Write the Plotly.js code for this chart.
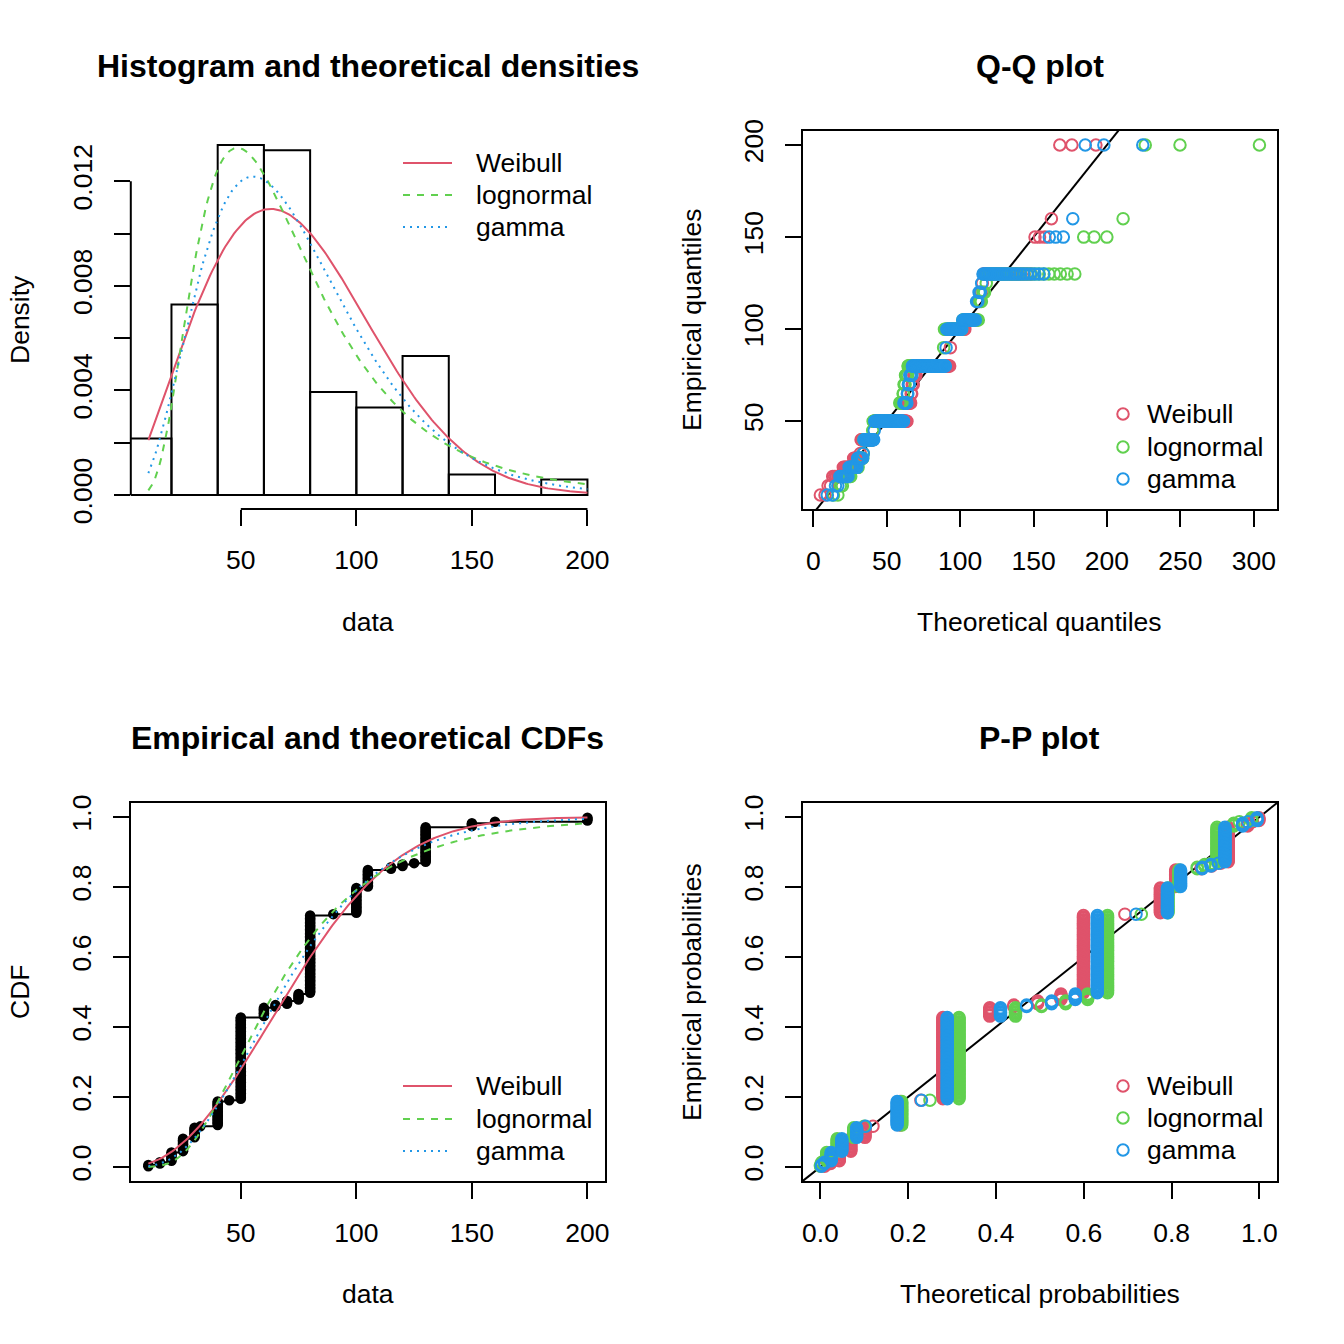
<!DOCTYPE html>
<html><head><meta charset="utf-8">
<script src="https://cdn.plot.ly/plotly-3.0.1.min.js"></script>
<style>html,body{margin:0;padding:0;background:#fff}#chart{width:1344px;height:1344px}</style>
</head><body><div id="chart"></div>
<script>
// ---------------- data (serving sizes) ----------------
const servingValues = [10, 15, 20, 25, 30, 32.5, 40, 45, 50, 60, 65, 70, 75, 80, 90, 100, 105, 115, 120, 125, 130, 150, 160, 200];
const servingCounts = [2, 2, 7, 10, 8, 1, 18, 1, 60, 7, 2, 3, 5, 57, 1, 19, 13, 2, 2, 1, 26, 3, 1, 3];
const histBreaks = [0, 20, 40, 60, 80, 100, 120, 140, 160, 180, 200];

// fitted parameters of the three distributions
const weibullShape = 2.185885, weibullScale = 83.347679;
const lnormMeanlog = 4.169370, lnormSdlog = 0.536609;
const gammaShape = 4.00825, gammaRate = 0.05442;

const distNames = ["Weibull", "lognormal", "gamma"];
const distColors = ["#DF536B", "#61D04F", "#2297E6"];
const distDash = ["solid", "7px,7px", "2px,5px"];

const panelTitles = ["Histogram and theoretical densities", "Q-Q plot", "Empirical and theoretical CDFs", "P-P plot"];
const histXTicks = [50, 100, 150, 200];
const histYTicks = [0, 0.002, 0.004, 0.006, 0.008, 0.010, 0.012];
const histYLabels = ["0.000", "", "0.004", "", "0.008", "", "0.012"];
const qqXTicks = [0, 50, 100, 150, 200, 250, 300];
const qqYTicks = [50, 100, 150, 200];
const probTicks = [0, 0.2, 0.4, 0.6, 0.8, 1.0];
const probLabels = ["0.0", "0.2", "0.4", "0.6", "0.8", "1.0"];

// ---------------- distribution functions ----------------
function lgamma(z) {
  const c = [0.99999999999980993, 676.5203681218851, -1259.1392167224028, 771.32342877765313,
    -176.61502916214059, 12.507343278686905, -0.13857109526572012, 9.9843695780195716e-6, 1.5056327351493116e-7];
  if (z < 0.5) return Math.log(Math.PI / Math.sin(Math.PI * z)) - lgamma(1 - z);
  z -= 1; let x = c[0];
  for (let i = 1; i < 9; i++) x += c[i] / (z + i);
  const t = z + 7.5;
  return 0.5 * Math.log(2 * Math.PI) + (z + 0.5) * Math.log(t) - t + Math.log(x);
}
function gammaP(a, x) {
  if (x <= 0) return 0;
  const lpre = -x + a * Math.log(x) - lgamma(a);
  if (x < a + 1) {
    let ap = a, sum = 1 / a, del = sum;
    for (let n = 0; n < 1000; n++) { ap += 1; del *= x / ap; sum += del; if (Math.abs(del) < Math.abs(sum) * 1e-15) break; }
    return sum * Math.exp(lpre);
  }
  let b = x + 1 - a, c = 1e300, d = 1 / b, h = d;
  for (let i = 1; i < 1000; i++) {
    const an = -i * (i - a); b += 2;
    d = an * d + b; if (Math.abs(d) < 1e-300) d = 1e-300;
    c = b + an / c; if (Math.abs(c) < 1e-300) c = 1e-300;
    d = 1 / d; const del = d * c; h *= del;
    if (Math.abs(del - 1) < 1e-15) break;
  }
  return 1 - Math.exp(lpre) * h;
}
function erfc(x) {
  const z = Math.abs(x), t = 1 / (1 + 0.5 * z);
  const r = t * Math.exp(-z * z - 1.26551223 + t * (1.00002368 + t * (0.37409196 + t * (0.09678418 + t * (-0.18628806 +
    t * (0.27886807 + t * (-1.13520398 + t * (1.48851587 + t * (-0.82215223 + t * 0.17087277)))))))));
  return x >= 0 ? r : 2 - r;
}
function pnorm(z) { return 0.5 * erfc(-z / Math.SQRT2); }
function qnorm(p) {
  const a = [-3.969683028665376e+01, 2.209460984245205e+02, -2.759285104469687e+02, 1.383577518672690e+02, -3.066479806614716e+01, 2.506628277459239e+00];
  const b = [-5.447609879822406e+01, 1.615858368580409e+02, -1.556989798598866e+02, 6.680131188771972e+01, -1.328068155288572e+01];
  const c = [-7.784894002430293e-03, -3.223964580411365e-01, -2.400758277161838e+00, -2.549732539343734e+00, 4.374664141464968e+00, 2.938163982698783e+00];
  const d = [7.784695709041462e-03, 3.224671290700398e-01, 2.445134137142996e+00, 3.754408661907416e+00];
  const pl = 0.02425;
  let q, r;
  if (p < pl) { q = Math.sqrt(-2 * Math.log(p)); return (((((c[0]*q+c[1])*q+c[2])*q+c[3])*q+c[4])*q+c[5]) / ((((d[0]*q+d[1])*q+d[2])*q+d[3])*q+1); }
  if (p > 1 - pl) { q = Math.sqrt(-2 * Math.log(1 - p)); return -(((((c[0]*q+c[1])*q+c[2])*q+c[3])*q+c[4])*q+c[5]) / ((((d[0]*q+d[1])*q+d[2])*q+d[3])*q+1); }
  q = p - 0.5; r = q * q;
  return (((((a[0]*r+a[1])*r+a[2])*r+a[3])*r+a[4])*r+a[5]) * q / (((((b[0]*r+b[1])*r+b[2])*r+b[3])*r+b[4])*r+1);
}
const dists = [
  { // Weibull
    d: x => (weibullShape / weibullScale) * Math.pow(x / weibullScale, weibullShape - 1) * Math.exp(-Math.pow(x / weibullScale, weibullShape)),
    p: x => 1 - Math.exp(-Math.pow(x / weibullScale, weibullShape)),
    q: p => weibullScale * Math.pow(-Math.log(1 - p), 1 / weibullShape)
  },
  { // lognormal
    d: x => Math.exp(-Math.pow(Math.log(x) - lnormMeanlog, 2) / (2 * lnormSdlog * lnormSdlog)) / (x * lnormSdlog * Math.sqrt(2 * Math.PI)),
    p: x => pnorm((Math.log(x) - lnormMeanlog) / lnormSdlog),
    q: p => Math.exp(lnormMeanlog + lnormSdlog * qnorm(p))
  },
  { // gamma
    d: x => Math.exp(gammaShape * Math.log(gammaRate) + (gammaShape - 1) * Math.log(x) - gammaRate * x - lgamma(gammaShape)),
    p: x => gammaP(gammaShape, gammaRate * x),
    q: p => { let lo = 0, hi = 2000; for (let i = 0; i < 80; i++) { const m = (lo + hi) / 2; if (gammaP(gammaShape, gammaRate * m) < p) lo = m; else hi = m; } return (lo + hi) / 2; }
  }
];

// ---------------- derived quantities ----------------
const data = [];
servingValues.forEach((v, i) => { for (let k = 0; k < servingCounts[i]; k++) data.push(v); });
const n = data.length;
const s = data.slice().sort((a, b) => a - b);
const pp = s.map((_, i) => (i + 1 - 0.5) / n);          // ppoints(n)
const xmin = s[0], xmax = s[n - 1];
const ext = (lo, hi) => [lo - 0.04 * (hi - lo), hi + 0.04 * (hi - lo)];

// histogram (right-closed bins, density scale)
const binMid = [], binDens = [];
for (let b = 0; b < histBreaks.length - 1; b++) {
  const lo = histBreaks[b], hi = histBreaks[b + 1];
  const cnt = data.filter(v => (b === 0 ? v >= lo : v > lo) && v <= hi).length;
  binMid.push((lo + hi) / 2);
  binDens.push(cnt / (n * (hi - lo)));
}
const grid = [];
for (let i = 0; i <= 200; i++) grid.push(xmin + (xmax - xmin) * i / 200);
const dens = dists.map(D => grid.map(D.d));
const cdfs = dists.map(D => grid.map(D.p));
const ymaxHist = Math.max(...binDens, ...dens.map(a => Math.max(...a)));
const qq = dists.map(D => pp.map(D.q));
const qqAll = [].concat(...qq);
const qqXRange = ext(Math.min(...qqAll), Math.max(...qqAll));
const dataRange = ext(xmin, xmax);
const pRange = ext(0, 1);
const ppx = dists.map(D => s.map(D.p));

// ---------------- traces ----------------
const traces = [];
traces.push({ type: 'bar', x: binMid, y: binDens, width: 20, xaxis: 'x', yaxis: 'y',
  marker: { color: 'rgba(0,0,0,0)', line: { color: '#000', width: 2 } }, hoverinfo: 'skip' });
traces.push({ type: 'scatter', mode: 'lines', x: [histBreaks[0], histBreaks[histBreaks.length - 1]], y: [0, 0],
  xaxis: 'x', yaxis: 'y', line: { color: '#000', width: 2 }, hoverinfo: 'skip' });
dists.forEach((D, k) => traces.push({ type: 'scatter', mode: 'lines', x: grid, y: dens[k], xaxis: 'x', yaxis: 'y',
  line: { color: distColors[k], width: 2, dash: distDash[k] }, name: distNames[k] }));

// Q-Q
const diagLo = Math.min(qqXRange[0], dataRange[0]) - 50, diagHi = Math.max(qqXRange[1], dataRange[1]) + 50;
traces.push({ type: 'scatter', mode: 'lines', x: [diagLo, diagHi], y: [diagLo, diagHi], xaxis: 'x2', yaxis: 'y2',
  line: { color: '#000', width: 2 }, hoverinfo: 'skip' });
dists.forEach((D, k) => traces.push({ type: 'scatter', mode: 'markers', x: qq[k], y: s, xaxis: 'x2', yaxis: 'y2',
  marker: { symbol: 'circle-open', size: 11.5, color: distColors[k], line: { width: 2, color: distColors[k] } }, name: distNames[k] }));

// CDF
const stepX = [], stepY = [];
for (let i = 0; i < n - 1; i++) if (s[i + 1] > s[i]) { stepX.push(s[i], s[i + 1], null); stepY.push(pp[i], pp[i], null); }
traces.push({ type: 'scatter', mode: 'markers', x: s, y: pp, xaxis: 'x3', yaxis: 'y3',
  marker: { symbol: 'circle', size: 10.5, color: '#000' }, hoverinfo: 'skip' });
traces.push({ type: 'scatter', mode: 'lines', x: stepX, y: stepY, xaxis: 'x3', yaxis: 'y3',
  line: { color: '#000', width: 2 }, connectgaps: false, hoverinfo: 'skip' });
dists.forEach((D, k) => traces.push({ type: 'scatter', mode: 'lines', x: grid, y: cdfs[k], xaxis: 'x3', yaxis: 'y3',
  line: { color: distColors[k], width: 2, dash: distDash[k] }, name: distNames[k] }));

// P-P
traces.push({ type: 'scatter', mode: 'lines', x: [-1, 2], y: [-1, 2], xaxis: 'x4', yaxis: 'y4',
  line: { color: '#000', width: 2 }, hoverinfo: 'skip' });
dists.forEach((D, k) => traces.push({ type: 'scatter', mode: 'markers', x: ppx[k], y: pp, xaxis: 'x4', yaxis: 'y4',
  marker: { symbol: 'circle-open', size: 11.5, color: distColors[k], line: { width: 2, color: distColors[k] } }, name: distNames[k] }));

// ---------------- layout ----------------
const W = 1344, H = 1344;
const X = px => px / W, Y = py => 1 - py / H;
const FONT = '"Liberation Sans", Arial, Helvetica, sans-serif';
const BASE = 26.5, TITLE = 32;
const colL = [X(130.8), X(605)], colR = [X(802.8), X(1277)];
const rowT = [Y(509), Y(131)], rowB = [Y(1181), Y(803)];

function ax(extra) {
  return Object.assign({
    showgrid: false, zeroline: false, ticks: 'outside', ticklen: 16, tickwidth: 2, tickcolor: '#000',
    tickfont: { size: BASE, color: '#000', family: FONT }, showline: true, mirror: true, linecolor: '#000', linewidth: 2,
    fixedrange: true, ticklabelstandoff: 11, tickmode: 'array'
  }, extra);
}
const yExtra = { tickangle: -90 };

const layout = {
  width: W, height: H, margin: { l: 0, r: 0, t: 0, b: 0 }, showlegend: false,
  paper_bgcolor: '#fff', plot_bgcolor: '#fff', font: { family: FONT, size: BASE, color: '#000' },
  xaxis: ax({ domain: colL, anchor: 'y', range: dataRange, tickvals: histXTicks, showline: false }),
  yaxis: ax(Object.assign({ domain: rowT, anchor: 'x', range: [-0.04 * ymaxHist, 1.04 * ymaxHist], tickvals: histYTicks, ticktext: histYLabels, showline: false }, yExtra)),
  xaxis2: ax({ domain: colR, anchor: 'y2', range: qqXRange, tickvals: qqXTicks }),
  yaxis2: ax(Object.assign({ domain: rowT, anchor: 'x2', range: dataRange, tickvals: qqYTicks }, yExtra)),
  xaxis3: ax({ domain: colL, anchor: 'y3', range: dataRange, tickvals: histXTicks }),
  yaxis3: ax(Object.assign({ domain: rowB, anchor: 'x3', range: pRange, tickvals: probTicks, ticktext: probLabels }, yExtra)),
  xaxis4: ax({ domain: colR, anchor: 'y4', range: pRange, tickvals: probTicks, ticktext: probLabels }),
  yaxis4: ax(Object.assign({ domain: rowB, anchor: 'x4', range: pRange, tickvals: probTicks, ticktext: probLabels }, yExtra)),
  shapes: [], annotations: []
};
// histogram axis lines spanning only the ticks (R style)
layout.shapes.push({ type: 'line', xref: 'x', yref: 'y domain', x0: histXTicks[0], x1: histXTicks[histXTicks.length - 1], y0: 0, y1: 0, line: { color: '#000', width: 2 } });
layout.shapes.push({ type: 'line', xref: 'x domain', yref: 'y', x0: 0, x1: 0, y0: histYTicks[0], y1: histYTicks[histYTicks.length - 1], line: { color: '#000', width: 2 } });

// titles
const titleY = [66, 66, 738, 738], titleX = [367.9, 1039.9, 367.9, 1039.9];
panelTitles.forEach((t, i) => layout.annotations.push({ text: '<b>' + t + '</b>', xref: 'paper', yref: 'paper', x: X(titleX[i]), y: Y(titleY[i]),
  xanchor: 'center', yanchor: 'middle', showarrow: false, font: { size: TITLE, family: FONT, color: '#000' } }));
const xTitles = [["data", 367.9, 622], ["Theoretical quantiles", 1039.9, 622], ["data", 367.9, 1294], ["Theoretical probabilities", 1039.9, 1294]];
xTitles.forEach(([t, x, y]) => layout.annotations.push({ text: t, xref: 'paper', yref: 'paper', x: X(x), y: Y(y), xanchor: 'center', yanchor: 'middle', showarrow: false, font: { size: BASE } }));
const yTitles = [["Density", 20, 320], ["Empirical quantiles", 692, 320], ["CDF", 20, 992], ["Empirical probabilities", 692, 992]];
yTitles.forEach(([t, x, y]) => layout.annotations.push({ text: t, xref: 'paper', yref: 'paper', x: X(x), y: Y(y), xanchor: 'center', yanchor: 'middle', textangle: -90, showarrow: false, font: { size: BASE } }));

// legends (no box, R style)
function lineLegend(ys) {
  distNames.forEach((nm, k) => {
    layout.shapes.push({ type: 'line', xref: 'paper', yref: 'paper', x0: X(403), x1: X(452), y0: Y(ys[k]), y1: Y(ys[k]), line: { color: distColors[k], width: 2, dash: distDash[k] } });
    layout.annotations.push({ text: nm, xref: 'paper', yref: 'paper', x: X(474), y: Y(ys[k]), xanchor: 'left', yanchor: 'middle', showarrow: false, font: { size: BASE } });
  });
}
function pointLegend(ys) {
  distNames.forEach((nm, k) => {
    layout.shapes.push({ type: 'circle', xref: 'paper', yref: 'paper', x0: X(1123 - 5.75), x1: X(1123 + 5.75), y0: Y(ys[k] + 5.75), y1: Y(ys[k] - 5.75), line: { color: distColors[k], width: 2 }, fillcolor: 'rgba(0,0,0,0)' });
    layout.annotations.push({ text: nm, xref: 'paper', yref: 'paper', x: X(1145), y: Y(ys[k]), xanchor: 'left', yanchor: 'middle', showarrow: false, font: { size: BASE } });
  });
}
lineLegend([163, 195, 227]);
pointLegend([414, 447, 479]);
lineLegend([1086, 1119, 1151]);
pointLegend([1086, 1118, 1150]);

Plotly.newPlot('chart', traces, layout, { staticPlot: true, displayModeBar: false });
</script></body></html>
